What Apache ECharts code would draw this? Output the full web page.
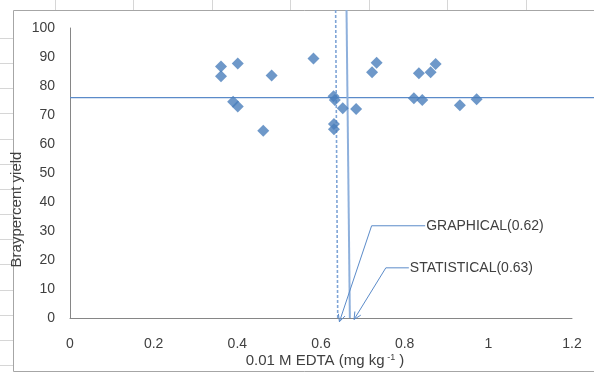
<!DOCTYPE html>
<html><head><meta charset="utf-8">
<script src="https://cdn.jsdelivr.net/npm/echarts@6/dist/echarts.min.js"></script>
<style>html,body{margin:0;padding:0;background:#fff}#c{width:594px;height:373px}</style>
</head><body><div id="c"></div>
<script>
// Scatter data (0.01 M EDTA vs Bray percent yield)
const edtaValues  = [0.361,0.361,0.401,0.482,0.582,0.390,0.401,0.462,0.733,0.722,0.630,0.633,0.652,0.684,0.631,0.631,0.834,0.862,0.874,0.822,0.842,0.932,0.972];
const yieldValues = [86.7,83.4,87.8,83.6,89.5,74.6,72.9,64.6,88.0,84.7,76.5,75.2,72.3,72.1,66.9,65.1,84.4,84.7,87.6,75.8,75.2,73.4,75.4];

// Reference lines: [x1, y1, x2, y2]
const horizontalLine  = [0, 76, 1.26, 76];
const graphicalLine   = [0.635, 106.2, 0.640, 0];
const statisticalLine = [0.661, 106.2, 0.669, 0];

// Annotations: label anchor, corner, arrow tip
const annotationNames  = ['GRAPHICAL(0.62)', 'STATISTICAL(0.63)'];
const annotationLabel  = [[0.849, 31.8], [0.810, 17.3]];
const annotationCorner = [[0.721, 31.8], [0.755, 17.3]];
const annotationTip    = [[0.644, -1.3], [0.679, -0.5]];

const xTicks = { min: 0, max: 1.2, interval: 0.2 };
const yTicks = { min: 0, max: 100, interval: 10 };

const FONT = 'Liberation Sans';
const TXT = '#404040';
const BLUE = '#4A7EBB';

const scatterData = edtaValues.map((x, i) => [x, yieldValues[i]]);
const annData = annotationNames.map((n, i) => [
  annotationLabel[i][0], annotationLabel[i][1],
  annotationCorner[i][0], annotationCorner[i][1],
  annotationTip[i][0], annotationTip[i][1]
]);
const refLines = [horizontalLine, graphicalLine, statisticalLine];
const refStyles = [
  { stroke: '#5B8BC9', lineWidth: 1.4 },
  { stroke: '#7EA4D6', lineWidth: 1.6, lineDash: [3, 2] },
  { stroke: '#8EB0DC', lineWidth: 2 }
];

const topTicks = [55, 133, 212, 290, 369, 447, 526].map(x => ({
  type: 'line', shape: { x1: x + 0.5, y1: 0, x2: x + 0.5, y2: 10 },
  style: { stroke: '#d6d6d6', lineWidth: 1 }, silent: true
}));
const leftTicks = [];
for (let k = 0; k < 14; k++) {
  const y = Math.round(38 + k * 25.15) + 0.5;
  leftTicks.push({ type: 'line', shape: { x1: 0, y1: y, x2: 13, y2: y },
    style: { stroke: '#d6d6d6', lineWidth: 1 }, silent: true });
}

const chart = echarts.init(document.getElementById('c'), null, { renderer: 'canvas' });
chart.setOption({
  animation: false,
  backgroundColor: '#fff',
  grid: { left: 70, right: 22, top: 28, bottom: 55, containLabel: false },
  xAxis: {
    type: 'value', min: xTicks.min, max: xTicks.max, interval: xTicks.interval,
    axisLine: { show: true, lineStyle: { color: '#868686', width: 1 } },
    axisTick: { show: false }, splitLine: { show: false },
    axisLabel: { fontFamily: FONT, fontSize: 14, color: TXT, margin: 19 }
  },
  yAxis: {
    type: 'value', min: yTicks.min, max: yTicks.max, interval: yTicks.interval,
    axisLine: { show: true, lineStyle: { color: '#868686', width: 1 } },
    axisTick: { show: false }, splitLine: { show: false },
    axisLabel: { fontFamily: FONT, fontSize: 14, color: TXT, margin: 15 }
  },
  graphic: [
    { type: 'rect', shape: { x: 13.5, y: 10.5, width: 620, height: 361 },
      style: { fill: 'none', stroke: '#a6a6a6', lineWidth: 1 }, silent: true, z: -10 },
    ...topTicks, ...leftTicks,
    { type: 'text', x: 17, y: 209.5, rotation: Math.PI / 2,
      style: { text: 'Braypercent yield', font: '15px "' + FONT + '"', fill: TXT,
               align: 'center', verticalAlign: 'middle' } },
    { type: 'text', x: 325, y: 353,
      style: { text: '0.01 M EDTA (mg kg{s| -1} )', font: '15px "' + FONT + '"', fill: TXT,
               align: 'center', verticalAlign: 'top',
               rich: { s: { fontSize: 9, fontFamily: FONT, fill: TXT, verticalAlign: 'top', padding: [0, 0, 6, 0] } } } }
  ],
  series: [
    {
      type: 'custom', clip: false, silent: true, z: 2,
      data: refLines,
      renderItem: function (params, api) {
        const a = api.coord([api.value(0), api.value(1)]);
        const b = api.coord([api.value(2), api.value(3)]);
        return { type: 'line', shape: { x1: a[0], y1: a[1], x2: b[0], y2: b[1] },
                 style: Object.assign({ fill: 'none' }, refStyles[params.dataIndex]) };
      }
    },
    {
      type: 'custom', clip: false, silent: true, z: 3,
      data: annData,
      renderItem: function (params, api) {
        const i = params.dataIndex;
        const p0 = api.coord([api.value(0), api.value(1)]);
        const p1 = api.coord([api.value(2), api.value(3)]);
        const p2 = api.coord([api.value(4), api.value(5)]);
        const dx = p2[0] - p1[0], dy = p2[1] - p1[1];
        const len = Math.sqrt(dx * dx + dy * dy);
        const ux = dx / len, uy = dy / len;
        const L = 8, a = 0.45;
        const h1 = [p2[0] - L * (ux * Math.cos(a) - uy * Math.sin(a)), p2[1] - L * (uy * Math.cos(a) + ux * Math.sin(a))];
        const h2 = [p2[0] - L * (ux * Math.cos(-a) - uy * Math.sin(-a)), p2[1] - L * (uy * Math.cos(-a) + ux * Math.sin(-a))];
        return {
          type: 'group',
          children: [
            { type: 'polyline', shape: { points: [p0, p1, p2] },
              style: { stroke: '#5B8BC9', lineWidth: 1, fill: 'none' } },
            { type: 'polyline', shape: { points: [h1, p2, h2] },
              style: { stroke: '#5B8BC9', lineWidth: 1, fill: 'none' } },
            { type: 'text', x: p0[0] + 1, y: p0[1],
              style: { text: annotationNames[i], font: '14px "' + FONT + '"', fill: TXT,
                       align: 'left', verticalAlign: 'middle' } }
          ]
        };
      }
    },
    { type: 'scatter', data: scatterData, symbol: 'diamond', symbolSize: 12,
      itemStyle: { color: BLUE }, z: 5 }
  ]
});
</script></body></html>
